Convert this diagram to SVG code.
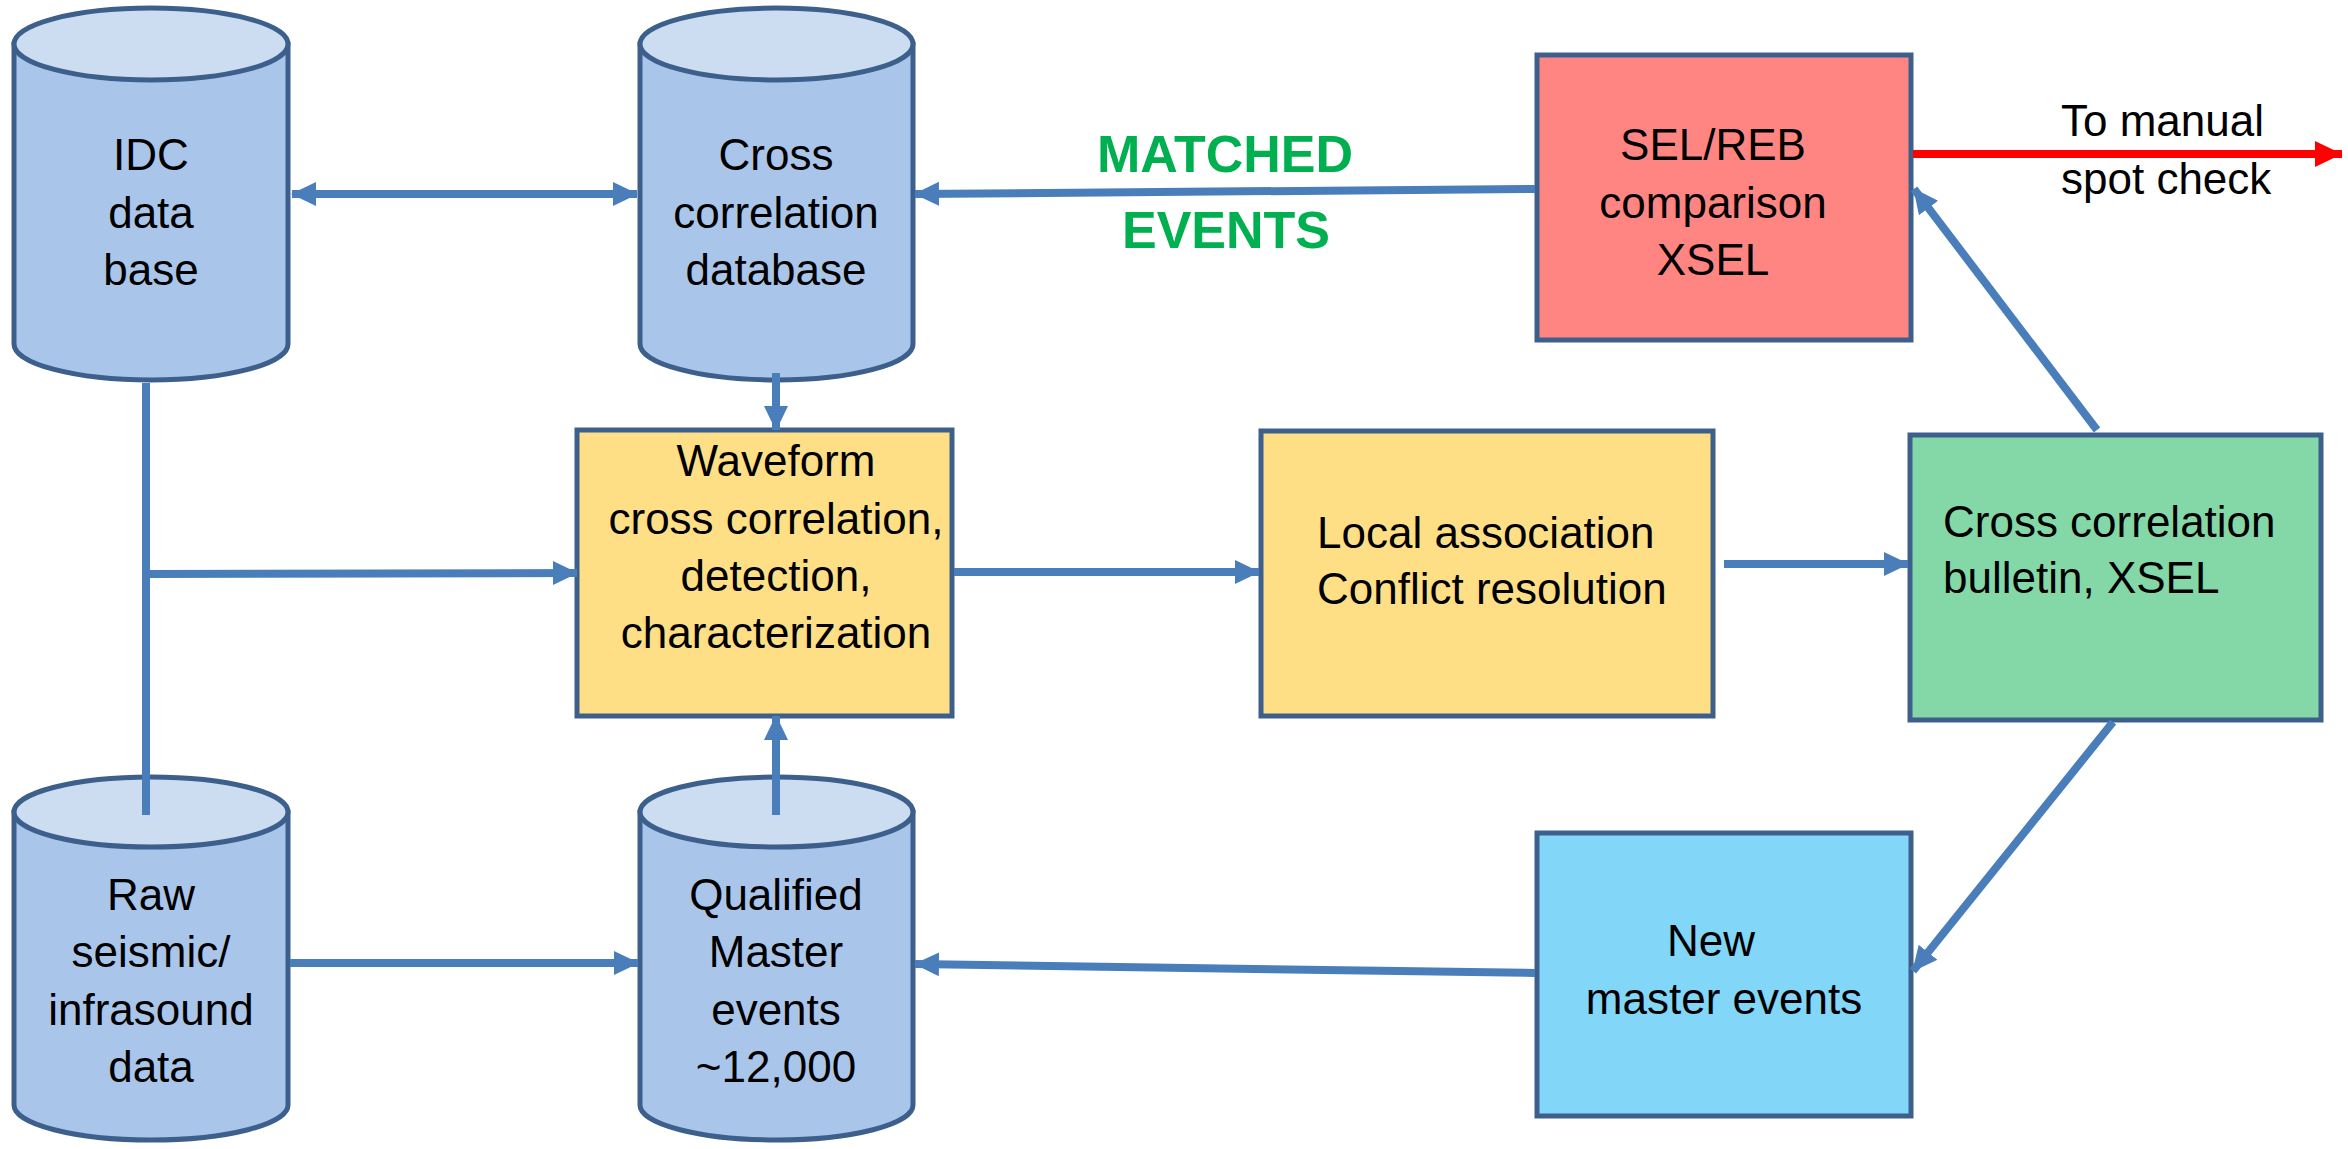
<svg xmlns="http://www.w3.org/2000/svg" width="2348" height="1149" viewBox="0 0 2348 1149">
<style>
  .t{font-family:"Liberation Sans",Arial,sans-serif;font-size:44px;fill:#000}
  .c{text-anchor:middle}
  .cylb{fill:#A9C6EA;stroke:#3D5F8C;stroke-width:5}
  .cylt{fill:#CCDDF1;stroke:#3D5F8C;stroke-width:5}
  .box{stroke:#3D5F8C;stroke-width:5}
  .ln{stroke:#4A7EBB;stroke-width:8;fill:none}
  .green{font-family:"Liberation Sans",Arial,sans-serif;font-size:52px;font-weight:bold;fill:#00B050;text-anchor:middle}
</style>
<defs>
  <marker id="ah" markerUnits="userSpaceOnUse" markerWidth="26" markerHeight="26" viewBox="0 0 26 26" refX="24" refY="13" orient="auto-start-reverse">
    <path d="M0,1 L25,13 L0,25 Z" fill="#4A7EBB"/>
  </marker>
  <marker id="ahr" markerUnits="userSpaceOnUse" markerWidth="28" markerHeight="28" viewBox="0 0 28 28" refX="27" refY="14" orient="auto">
    <path d="M0,1 L27,14 L0,27 Z" fill="#FF0000"/>
  </marker>
</defs>
<rect width="2348" height="1149" fill="#fff"/>

<g id="idc">
  <path class="cylb" d="M14,44 V344 A137,36 0 0 0 288,344 V44 Z"/>
  <ellipse class="cylt" cx="151" cy="44" rx="137" ry="36"/>
  <text class="t c" x="151" y="170">IDC</text>
  <text class="t c" x="151" y="228">data</text>
  <text class="t c" x="151" y="285">base</text>
</g>

<g id="ccdb">
  <path class="cylb" d="M640,44 V344 A136.5,36 0 0 0 913,344 V44 Z"/>
  <ellipse class="cylt" cx="776.5" cy="44" rx="136.5" ry="36"/>
  <text class="t c" x="776" y="170">Cross</text>
  <text class="t c" x="776" y="228">correlation</text>
  <text class="t c" x="776" y="285">database</text>
</g>

<g id="raw">
  <path class="cylb" d="M14,812 V1105 A137,35 0 0 0 288,1105 V812 Z"/>
  <ellipse class="cylt" cx="151" cy="812" rx="137" ry="35"/>
  <text class="t c" x="151" y="910">Raw</text>
  <text class="t c" x="151" y="967">seismic/</text>
  <text class="t c" x="151" y="1025">infrasound</text>
  <text class="t c" x="151" y="1082">data</text>
</g>

<g id="qm">
  <path class="cylb" d="M640,812 V1105 A136.5,35 0 0 0 913,1105 V812 Z"/>
  <ellipse class="cylt" cx="776.5" cy="812" rx="136.5" ry="35"/>
  <text class="t c" x="776" y="910">Qualified</text>
  <text class="t c" x="776" y="967">Master</text>
  <text class="t c" x="776" y="1025">events</text>
  <text class="t c" x="776" y="1082">~12,000</text>
</g>

<g id="waveform">
  <rect class="box" x="577" y="430" width="375" height="286" fill="#FEDF86"/>
  <text class="t c" x="776" y="476">Waveform</text>
  <text class="t c" x="776" y="534">cross correlation,</text>
  <text class="t c" x="776" y="591">detection,</text>
  <text class="t c" x="776" y="648">characterization</text>
</g>

<g id="local">
  <rect class="box" x="1261" y="431" width="452" height="285" fill="#FEDF86"/>
  <text class="t" x="1317" y="548">Local association</text>
  <text class="t" x="1317" y="604">Conflict resolution</text>
</g>

<g id="bulletin">
  <rect class="box" x="1910" y="435" width="411" height="285" fill="#84D8A8"/>
  <text class="t" x="1943" y="537">Cross correlation</text>
  <text class="t" x="1943" y="593">bulletin, XSEL</text>
</g>

<g id="selreb">
  <rect class="box" x="1537" y="55" width="374" height="285" fill="#FF8582"/>
  <text class="t c" x="1713" y="160">SEL/REB</text>
  <text class="t c" x="1713" y="218">comparison</text>
  <text class="t c" x="1713" y="275">XSEL</text>
</g>

<g id="newmaster">
  <rect class="box" x="1537" y="833" width="374" height="283" fill="#82D6F8"/>
  <text class="t c" x="1711" y="956">New</text>
  <text class="t c" x="1724" y="1014">master events</text>
</g>

<g id="labels">
  <text class="green" x="1225" y="172">MATCHED</text>
  <text class="green" x="1226" y="248">EVENTS</text>
  <text class="t" x="2061" y="136">To manual</text>
  <text class="t" x="2061" y="194">spot check</text>
</g>

<g id="connectors">
  <line class="ln" x1="292" y1="194" x2="637" y2="194" marker-start="url(#ah)" marker-end="url(#ah)"/>
  <line class="ln" x1="776" y1="373" x2="776" y2="430" marker-end="url(#ah)"/>
  <polyline class="ln" points="146,383 146,815"/>
  <line class="ln" x1="146" y1="574" x2="577" y2="573" marker-end="url(#ah)"/>
  <line class="ln" x1="776" y1="815" x2="776" y2="716" marker-end="url(#ah)"/>
  <line class="ln" x1="290" y1="963" x2="638" y2="963" marker-end="url(#ah)"/>
  <line class="ln" x1="954" y1="572" x2="1259" y2="572" marker-end="url(#ah)"/>
  <line class="ln" x1="1724" y1="564" x2="1908" y2="564" marker-end="url(#ah)"/>
  <line class="ln" x1="2097" y1="430" x2="1914" y2="189" marker-end="url(#ah)"/>
  <line class="ln" x1="1535" y1="189" x2="915" y2="194" marker-end="url(#ah)"/>
  <line class="ln" x1="2113" y1="722" x2="1913" y2="971" marker-end="url(#ah)"/>
  <line class="ln" x1="1535" y1="973" x2="915" y2="964" marker-end="url(#ah)"/>
  <line x1="1913" y1="154" x2="2342" y2="154" stroke="#FF0000" stroke-width="8" marker-end="url(#ahr)"/>
</g>
</svg>
